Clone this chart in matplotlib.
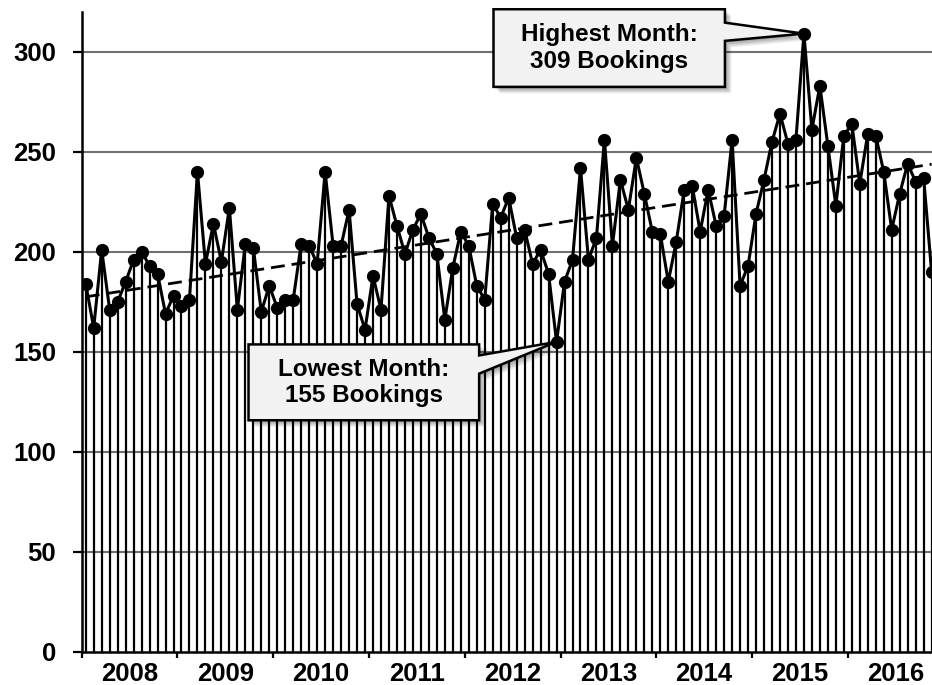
import matplotlib
matplotlib.use("Agg")
import matplotlib.pyplot as plt
import matplotlib.transforms as mtransforms
from matplotlib.patches import Polygon
import numpy as np

plt.rcParams['font.family'] = ['Liberation Sans', 'DejaVu Sans']
plt.rcParams['font.weight'] = 'bold'

# monthly bookings, Jan 2008 .. Nov 2016
bookings_2008 = [184, 162, 201, 171, 175, 185, 196, 200, 193, 189, 169, 178]
bookings_2009 = [173, 176, 240, 194, 214, 195, 222, 171, 204, 202, 170, 183]
bookings_2010 = [172, 176, 176, 204, 203, 194, 240, 203, 203, 221, 174, 161]
bookings_2011 = [188, 171, 228, 213, 199, 211, 219, 207, 199, 166, 192, 210]
bookings_2012 = [203, 183, 176, 224, 217, 227, 207, 211, 194, 201, 189, 155]
bookings_2013 = [185, 196, 242, 196, 207, 256, 203, 236, 221, 247, 229, 210]
bookings_2014 = [209, 185, 205, 231, 233, 210, 231, 213, 218, 256, 183, 193]
bookings_2015 = [219, 236, 255, 269, 254, 256, 309, 261, 283, 253, 223, 258]
bookings_2016 = [264, 234, 259, 258, 240, 211, 229, 244, 235, 237, 190]
years = ['2008', '2009', '2010', '2011', '2012', '2013', '2014', '2015', '2016']

vals = np.array(bookings_2008 + bookings_2009 + bookings_2010 + bookings_2011 +
                bookings_2012 + bookings_2013 + bookings_2014 + bookings_2015 +
                bookings_2016)
x = np.arange(len(vals)) + 0.5

fig = plt.figure(figsize=(9.32, 6.85), dpi=100)
ax = fig.add_axes([0.0877, 0.0482, 1 - 0.0877, 0.983 - 0.0482])

ax.set_xlim(0, 106.55)
ax.set_ylim(0, 320)

# grid
for g in range(50, 301, 50):
    ax.axhline(g, color='#707070', lw=1.5, zorder=0)

ax.vlines(x, 0, vals, color='black', lw=1.6, zorder=1)

# linear trend
k, b = np.polyfit(x, vals, 1)
ax.plot([x[0], x[-1]], [k * x[0] + b, k * x[-1] + b], color='black', lw=2.0,
        dashes=(5, 2.5), zorder=2)

ax.plot(x, vals, color='black', lw=2.2, marker='o', ms=8.5, zorder=3)

# axes styling
for s in ['top', 'right']:
    ax.spines[s].set_visible(False)
for s in ['left', 'bottom']:
    ax.spines[s].set_linewidth(1.8)
ax.set_yticks(range(0, 301, 50))
ax.tick_params(axis='y', direction='out', length=6.5, width=1.6, pad=12,
               labelsize=18.5)
ax.set_xticks(np.arange(0, 108, 12))
ax.set_xticklabels([])
ax.tick_params(axis='x', which='major', direction='out', length=4, width=1.6)
ax.set_xticks(np.arange(6, 108, 12), minor=True)
ax.set_xticklabels(years, minor=True)
ax.tick_params(axis='x', which='minor', length=0, pad=7, labelsize=18.5)


def callout(ax, bx0, bx1, by0, by1, wy0, wy1, tip, text):
    verts = [(bx0, by0), (bx1, by0), (bx1, wy0), tip, (bx1, wy1),
             (bx1, by1), (bx0, by1)]
    for i, a in enumerate([0.10, 0.10, 0.10, 0.08]):
        off = mtransforms.offset_copy(ax.transData, fig=fig,
                                      x=2 + 1.5 * i, y=-(2 + 1.5 * i),
                                      units='dots')
        ax.add_patch(Polygon(verts, closed=True, facecolor='black',
                             edgecolor='none', alpha=a, transform=off,
                             clip_on=False, zorder=5))
    ax.add_patch(Polygon(verts, closed=True, facecolor='#f2f2f2',
                         edgecolor='black', lw=1.8, clip_on=False, zorder=6))
    ax.text((bx0 + bx1) / 2, (by0 + by1) / 2, text, ha='center', va='center',
            fontsize=17.5, fontweight='bold', linespacing=1.2, zorder=7)


imax = int(np.argmax(vals))
imin = int(np.argmin(vals))
callout(ax, 51.6, 80.6, 282.4, 321.2, 305.4, 314.5, (x[imax], vals[imax]),
        'Highest Month:\n%d Bookings' % vals[imax])
callout(ax, 20.9, 49.8, 115.8, 153.7, 139.1, 148.2, (x[imin], vals[imin]),
        'Lowest Month:\n%d Bookings' % vals[imin])

fig.savefig('out.png', dpi=100)
